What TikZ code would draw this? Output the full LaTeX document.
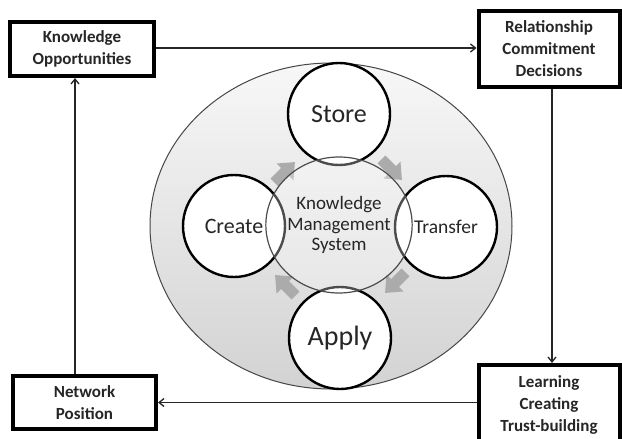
\documentclass[tikz,border=0pt]{standalone}
\usepackage{fontspec}
\setmainfont{Carlito}
\usetikzlibrary{arrows.meta,shapes.geometric}
\begin{document}
\begin{tikzpicture}[x=1pt,y=-1pt,
  stagebox/.style={draw=black, line width=4pt, fill=white, align=center,
    font=\bfseries\fontsize{17}{22}\selectfont, inner sep=0pt, text=black!85},
  phase/.style={circle, draw=black, line width=2.4pt, fill=white,
    minimum size=102pt, inner sep=0pt, text=black!85},
  link/.style={line width=1.3pt, draw=black!85,
    -{Straight Barb[length=5pt,width=8pt,line width=1.3pt]}},
  cyclearrow/.style={fill=black!33},
]
\useasboundingbox (0,0) rectangle (622,439);
\fill[white] (0,0) rectangle (622,439);

% outer process ellipse
\shade[top color=gray!6, bottom color=gray!35]
  (331,226) ellipse [x radius=181pt, y radius=163pt];
\draw[gray!55!black, line width=1pt]
  (331,226) ellipse [x radius=181pt, y radius=163pt];

% cycle arrows between the phases (block arrows, drawn along +x then turned)
\foreach \px/\py/\ang in {285/172/45, 392/170/-45, 395/283/-135, 285/285/135}{
  \fill[cyclearrow, shift={(\px,\py)}, rotate=\ang]
    (-15,-5.5) -- (0,-5.5) -- (0,-12) -- (14,0) -- (0,12) -- (0,5.5)
    -- (-15,5.5) -- cycle;
}

% the four phases
\node[phase, font=\fontsize{26}{30}\selectfont] (store) at (339,114) {\raisebox{-3pt}{Store}};
\node[phase, font=\fontsize{22}{26}\selectfont] (create) at (234,226) {\raisebox{-2pt}{Create}};
\node[phase, font=\fontsize{19.5}{24}\selectfont] (transfer) at (446,227) {\raisebox{-2pt}{Transfer}};
\node[phase, font=\fontsize{28}{32}\selectfont] (apply) at (340,338) {\raisebox{-4pt}{Apply}};

% central system
\node[ellipse, minimum width=144pt, minimum height=136pt, inner sep=0pt,
  fill=white, fill opacity=0.3, text opacity=1, draw=gray!60!black, line width=1.2pt,
  align=center, font=\fontsize{19}{20.5}\selectfont, text=black!85]
  (kms) at (339,225) {Knowledge\\Management\\System};

% outer boxes
\node[stagebox, minimum width=144pt, minimum height=54pt] (ko) at (82,49)
  {Knowledge\\Opportunities};
\node[stagebox, minimum width=141pt, minimum height=76pt] (rel) at (549,49)
  {Relationship\\Commitment\\Decisions};
\node[stagebox, minimum width=141pt, minimum height=80pt] (learn) at (549,405)
  {Learning\\Creating\\Trust-building};
\node[stagebox, minimum width=143pt, minimum height=53pt] (net) at (84.5,402.5)
  {Network\\Position};

% connectors
\draw[link] ([yshift=1pt]ko.east) -- ([yshift=1pt]ko.east -| rel.west);
\draw[link] ([xshift=3pt]rel.south) -- ([xshift=3pt]rel.south |- learn.north);
\draw[link] (learn.west |- net.east) -- (net.east);
\draw[link] ([xshift=-9.5pt]net.north) -- ([xshift=-9.5pt]net.north |- ko.south);
\end{tikzpicture}
\end{document}
